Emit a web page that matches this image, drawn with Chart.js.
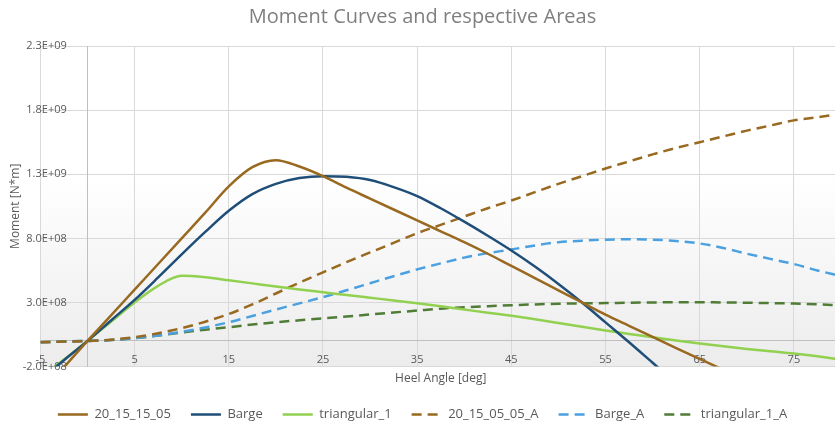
<!DOCTYPE html>
<html>
<head>
<meta charset="utf-8">
<title>Moment Curves and respective Areas</title>
<script src="https://cdn.jsdelivr.net/npm/chart.js@4.4.1/dist/chart.umd.min.js"></script>
<style>
  html, body { margin: 0; padding: 0; background: #fff; overflow: hidden; }
  #wrap { position: relative; width: 850px; height: 431px; }
</style>
</head>
<body>
<div id="wrap"><canvas id="moments"></canvas></div>
<script>
// heel angle [deg]
var angles = [-5, -2.5, 0, 2.5, 5, 7.5, 10, 12.5, 15, 17.5, 20, 22.5, 25, 27.5, 30, 32.5, 35,
  37.5, 40, 42.5, 45, 47.5, 50, 52.5, 55, 57.5, 60, 62.5, 65, 67.5, 70, 72.5, 75, 77.5, 80]

// righting moments, 1E+08 N*m
var m_20_15_15_05 = [-4.1, -2.05, 0, 2.0, 4.0, 6.0, 8.0, 10.0, 12.05, 13.55, 14.1, 13.6, 12.85, 11.95,
  11.1, 10.25, 9.4, 8.55, 7.7, 6.8, 5.85, 4.9, 3.95, 3.0, 2.05, 1.18, 0.32, -0.55, -1.4, -2.25, -3.1,
  null, null, null, null]
var m_barge = [-3.0, -1.5, 0, 1.6, 3.2, 4.95, 6.75, 8.5, 10.15, 11.45, 12.25, 12.7, 12.85, 12.8, 12.55,
  12.0, 11.3, 10.35, 9.3, 8.2, 7.05, 5.8, 4.45, 3.0, 1.45, -0.1, -1.7, -3.3,
  null, null, null, null, null, null, null]
var m_triangular_1 = [-2.9, -1.45, 0, 1.5, 3.0, 4.3, 5.08, 4.97, 4.73, 4.49, 4.25, 4.02, 3.8, 3.58, 3.37,
  3.16, 2.94, 2.7, 2.45, 2.2, 1.96, 1.7, 1.4, 1.1, 0.82, 0.55, 0.28, 0.03, -0.2, -0.42, -0.62, -0.8,
  -0.98, -1.2, -1.45]

// areas under the moment curves, same units
var a_20_15_05_05 = [-0.1, -0.05, 0, 0.1, 0.3, 0.6, 1.0, 1.5, 2.1, 2.85, 3.7, 4.55, 5.35, 6.15, 6.9,
  7.65, 8.4, 9.05, 9.7, 10.35, 10.95, 11.6, 12.25, 12.85, 13.45, 14.0, 14.55, 15.05, 15.5, 15.95,
  16.4, 16.8, 17.2, 17.45, 17.7]
var a_barge = [-0.1, -0.05, 0, 0.07, 0.22, 0.42, 0.72, 1.05, 1.46, 1.95, 2.45, 2.93, 3.42, 3.95, 4.5,
  5.05, 5.58, 6.05, 6.5, 6.85, 7.13, 7.45, 7.7, 7.82, 7.9, 7.93, 7.9, 7.8, 7.6, 7.25, 6.8, 6.4, 6.0,
  5.5, 5.05]
var a_triangular_1 = [-0.1, -0.05, 0, 0.07, 0.22, 0.42, 0.65, 0.88, 1.07, 1.28, 1.46, 1.61, 1.76, 1.91,
  2.06, 2.22, 2.37, 2.52, 2.63, 2.71, 2.78, 2.85, 2.9, 2.93, 2.95, 2.98, 3.0, 3.02, 3.02, 3.0, 2.98,
  2.95, 2.92, 2.86, 2.78]

var xTicks = [-5, 5, 15, 25, 35, 45, 55, 65, 75]
var yTicks = [-2e8, 3e8, 8e8, 1.3e9, 1.8e9, 2.3e9]
var yTickLabels = ['-2.0E+08', '3.0E+08', '8.0E+08', '1.3E+09', '1.8E+09', '2.3E+09']

var UNIT = 1e8
// y labels sit a little left of the vertical axis (in degrees of heel)
var yLabelAnchor = -2.2

function points(values) {
  var pts = []
  for (var i = 0; i < angles.length; i++) {
    if (values[i] === null) continue
    pts.push({x: angles[i], y: values[i] * UNIT})
  }
  return pts
}

function curve(label, values, color, dashed) {
  return {
    label: label,
    data: points(values),
    borderColor: color,
    backgroundColor: color,
    borderWidth: 2.5,
    borderDash: dashed ? [10, 6] : [],
    pointRadius: 0,
    pointHoverRadius: 0,
    cubicInterpolationMode: 'monotone',
    fill: false
  }
}

function fixedTicks(list) {
  return function(axis) {
    axis.ticks = list.map(function(v) { return {value: v} })
  }
}

// soft white-to-grey fill behind the plot
var plotBackground = {
  id: 'plotBackground',
  beforeDraw: function(chart) {
    var a = chart.chartArea
    var ctx = chart.ctx
    var g = ctx.createLinearGradient(0, a.top, 0, a.bottom)
    g.addColorStop(0, '#ffffff')
    g.addColorStop(0.4, '#ffffff')
    g.addColorStop(1, '#ececec')
    ctx.save()
    ctx.fillStyle = g
    ctx.fillRect(a.left, a.top, a.right - a.left, a.bottom - a.top)
    ctx.restore()
  }
}

Chart.defaults.font.family = "'Open Sans', sans-serif"
Chart.defaults.color = '#595959'

var hidden = { display: false, drawTicks: false }

var chart = new Chart(document.getElementById('moments'), {
  type: 'line',
  data: {
    datasets: [
      curve('20_15_15_05', m_20_15_15_05, '#98691f', false),
      curve('Barge', m_barge, '#1f4e79', false),
      curve('triangular_1', m_triangular_1, '#92d050', false),
      curve('20_15_05_05_A', a_20_15_05_05, '#98691f', true),
      curve('Barge_A', a_barge, '#4aa0e0', true),
      curve('triangular_1_A', a_triangular_1, '#507c36', true)
    ]
  },
  options: {
    responsive: true,
    maintainAspectRatio: false,
    animation: false,
    layout: { padding: { left: 4, right: 9, top: 0, bottom: 0 } },
    plugins: {
      title: {
        display: true,
        text: 'Moment Curves and respective Areas',
        color: '#7f7f7f',
        font: { size: 20, weight: 'normal' },
        padding: { top: 5, bottom: 17 }
      },
      legend: {
        position: 'bottom',
        labels: {
          usePointStyle: true,
          pointStyle: 'line',
          pointStyleWidth: 30,
          padding: 20,
          color: '#595959',
          font: { size: 13 },
          generateLabels: function(chart) {
            var items = Chart.defaults.plugins.legend.labels.generateLabels(chart)
            items.forEach(function(item) {
              var ds = chart.data.datasets[item.datasetIndex]
              item.lineDash = ds.borderDash
              item.lineWidth = ds.borderWidth
              item.strokeStyle = ds.borderColor
            })
            return items
          }
        }
      },
      tooltip: { enabled: false }
    },
    scales: {
      x: {
        type: 'linear',
        min: -5,
        max: 80,
        position: { y: 0 },
        afterBuildTicks: fixedTicks(xTicks),
        ticks: { autoSkip: false, maxRotation: 0, padding: 12, font: { size: 11 } },
        grid: { color: '#d9d9d9', drawTicks: false },
        border: { color: '#bfbfbf' }
      },
      y: {
        type: 'linear',
        min: -2e8,
        max: 2.3e9,
        position: { x: 0 },
        afterBuildTicks: fixedTicks(yTicks),
        ticks: { display: false },
        grid: { color: '#d9d9d9', drawTicks: false },
        border: { color: '#bfbfbf' }
      },
      yLabels: {
        axis: 'y',
        type: 'linear',
        min: -2e8,
        max: 2.3e9,
        position: { x: yLabelAnchor },
        afterBuildTicks: fixedTicks(yTicks),
        ticks: {
          font: { size: 11 },
          callback: function(value, index) { return yTickLabels[index] }
        },
        grid: hidden,
        border: { display: false }
      },
      xTitle: {
        axis: 'x',
        type: 'linear',
        position: 'bottom',
        grid: hidden,
        border: { display: false },
        ticks: { display: false },
        title: { display: true, text: 'Heel Angle [deg]', font: { size: 12 }, padding: { top: 5, bottom: 2 } }
      },
      yTitle: {
        axis: 'y',
        type: 'linear',
        position: 'left',
        grid: hidden,
        border: { display: false },
        ticks: { display: false },
        title: { display: true, text: 'Moment [N*m]', font: { size: 12 }, padding: { top: 4, bottom: 18 } }
      }
    }
  },
  plugins: [plotBackground]
})
</script>
</body>
</html>
